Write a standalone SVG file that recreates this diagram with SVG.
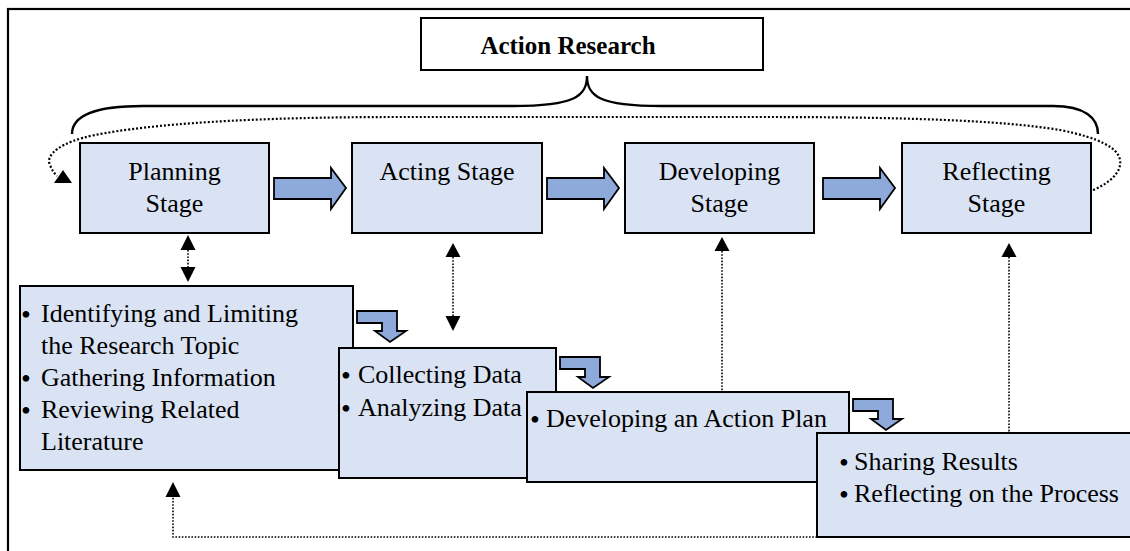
<svg xmlns="http://www.w3.org/2000/svg" width="1130" height="551" viewBox="0 0 1130 551">
<defs>
<style>
.frame{fill:#fff;stroke:#000;stroke-width:2.2}
.box{fill:#DAE3F3;stroke:#000;stroke-width:2}
.title{fill:#fff;stroke:#000;stroke-width:2}
.t{font-family:"Liberation Serif","Times New Roman",serif;font-size:26px;fill:#000}
.bu{font-family:"Liberation Serif","Times New Roman",serif;font-size:28px;fill:#000}
.c{text-anchor:middle}
.b{font-weight:bold}
.blk{fill:#8EAADB;stroke:#000;stroke-width:1.8;stroke-linejoin:miter}
.dot{fill:none;stroke:#000;stroke-width:1.6;stroke-dasharray:1.6 1.6}
.loop{fill:none;stroke:#000;stroke-width:2.2;stroke-dasharray:2 2}
.brace{fill:none;stroke:#000;stroke-width:2.4}
.head{fill:#000}
</style>
<path id="bent" d="M0,0 H40 V20 H49 L33,31 L18,20 H25 V12 H0 Z"/>
<path id="right" d="M0,10 H57 V0 L72,20 L57,41 V31 H0 Z"/>
</defs>
<rect class="frame" x="8" y="9" width="1140" height="570"/>

<g id="title">
<rect class="title" x="421" y="18" width="342" height="52"/>
<text class="t c b" x="568" y="54" style="font-size:25px">Action Research</text>
</g>

<g id="planning">
<rect class="box" x="80" y="143" width="189" height="90"/>
<text class="t c" x="174.5" y="180">Planning</text>
<text class="t c" x="174.5" y="212">Stage</text>
</g>
<g id="acting">
<rect class="box" x="352" y="143" width="190" height="90"/>
<text class="t c" x="447" y="180">Acting Stage</text>
</g>
<g id="developing">
<rect class="box" x="625" y="143" width="189" height="90"/>
<text class="t c" x="719.5" y="180">Developing</text>
<text class="t c" x="719.5" y="212">Stage</text>
</g>
<g id="reflecting">
<rect class="box" x="902" y="143" width="189" height="90"/>
<text class="t c" x="996.5" y="180">Reflecting</text>
<text class="t c" x="996.5" y="212">Stage</text>
</g>

<g id="box-planning-tasks">
<rect class="box" x="20" y="286" width="333" height="184"/>
<text class="bu" x="21" y="324">•</text>
<text class="t" x="41" y="322">Identifying and Limiting</text>
<text class="t" x="41" y="354">the Research Topic</text>
<text class="bu" x="21" y="388">•</text>
<text class="t" x="41" y="386">Gathering Information</text>
<text class="bu" x="21" y="420">•</text>
<text class="t" x="41" y="418">Reviewing Related</text>
<text class="t" x="41" y="450">Literature</text>
</g>
<g id="box-acting-tasks">
<rect class="box" x="339" y="348" width="217" height="130"/>
<text class="bu" x="341" y="385">•</text>
<text class="t" x="358" y="383">Collecting Data</text>
<text class="bu" x="341" y="418">•</text>
<text class="t" x="358" y="416">Analyzing Data</text>
</g>
<g id="box-developing-tasks">
<rect class="box" x="527" y="392" width="322" height="90"/>
<text class="bu" x="530" y="429">•</text>
<text class="t" x="546" y="427">Developing an Action Plan</text>
</g>
<g id="box-reflecting-tasks">
<rect class="box" x="817" y="433" width="330" height="104"/>
<text class="bu" x="839" y="472">•</text>
<text class="t" x="854" y="470">Sharing Results</text>
<text class="bu" x="839" y="504">•</text>
<text class="t" x="854" y="502">Reflecting on the Process</text>
</g>

<g id="connectors">
<path class="brace" d="M72,134 C72,118 90,106 143,106 L513,106 C575,106 587,96 587,76 C587,96 599,106 661,106 L1053,106 C1085,106 1098,118 1098,134"/>
<path class="loop" d="M1093,190 C1110,183 1122,172 1120,160 C1118,148 1100,138 1060,130 C1000,120 900,117 760,117 L400,117 C250,117 150,124 95,135 C60,142 45,155 50,165 C52,170 54,173 57,176"/>
<polygon class="head" points="63,170 54,183 72,183"/>

<use href="#right" class="blk" x="274" y="168"/>
<use href="#right" class="blk" x="547" y="168"/>
<use href="#right" class="blk" x="823" y="168"/>

<use href="#bent" class="blk" x="357" y="311"/>
<use href="#bent" class="blk" x="560" y="357"/>
<use href="#bent" class="blk" x="853" y="399"/>

<line class="dot" x1="188" y1="250" x2="188" y2="267"/>
<polygon class="head" points="188,235 180.5,250 195.5,250"/>
<polygon class="head" points="188,282 180.5,267 195.5,267"/>

<line class="dot" x1="453" y1="257" x2="453" y2="316"/>
<polygon class="head" points="453,243 445.5,257 460.5,257"/>
<polygon class="head" points="453,331 445.5,316 460.5,316"/>

<line class="dot" x1="722" y1="251" x2="722" y2="391"/>
<polygon class="head" points="722,237 714.5,251 729.5,251"/>

<line class="dot" x1="1009" y1="257" x2="1009" y2="432"/>
<polygon class="head" points="1009,243 1001.5,257 1016.5,257"/>

<path class="dot" d="M817,537 H173 V497"/>
<polygon class="head" points="173,482 165.5,497 180.5,497"/>
</g>
</svg>
